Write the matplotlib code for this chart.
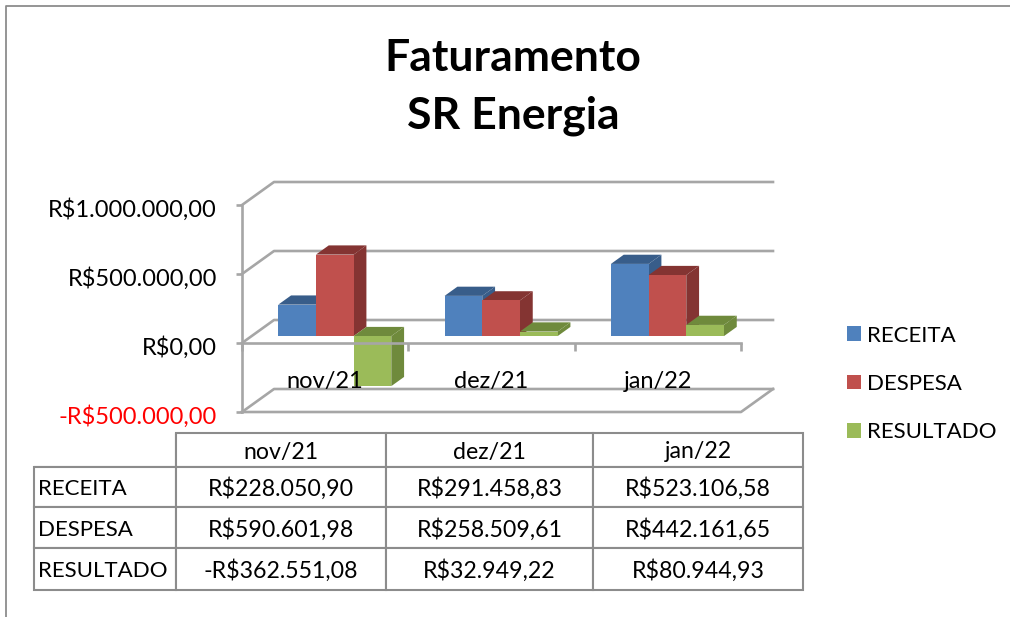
import matplotlib
matplotlib.use("Agg")
import matplotlib.pyplot as plt
from matplotlib.lines import Line2D
from matplotlib.patches import Patch, Polygon
from matplotlib.transforms import ScaledTranslation

plt.rcParams['font.family'] = ['Lato', 'DejaVu Sans']

meses = ['nov/21', 'dez/21', 'jan/22']
series = ['RECEITA', 'DESPESA', 'RESULTADO']
receita = [228050.90, 291458.83, 523106.58]
despesa = [590601.98, 258509.61, 442161.65]
resultado = [-362551.08, 32949.22, 80944.93]
y_ticks = [-500000, 0, 500000, 1000000]
y_labels = ['-R$500.000,00', 'R$0,00', 'R$500.000,00', 'R$1.000.000,00']
tabela = [
    ['RECEITA', 'R$228.050,90', 'R$291.458,83', 'R$523.106,58'],
    ['DESPESA', 'R$590.601,98', 'R$258.509,61', 'R$442.161,65'],
    ['RESULTADO', '-R$362.551,08', 'R$32.949,22', 'R$80.944,93'],
]

W, H = 1010, 617
GRIS = '#a6a6a6'
cores = ['#4f81bd', '#c0504d', '#9bbb59']
cores_lado = ['#385d8a', '#843432', '#6f8a3c']

fig = plt.figure(figsize=(W / 100, H / 100), dpi=100, facecolor='white')

# moldura
fig.add_artist(Line2D([6 / W, 6 / W, 1], [0, 1 - 6 / H, 1 - 6 / H], color='#8c8c8c', lw=1.3))

fig.text(513 / W, 1 - 71 / H, 'Faturamento', fontsize=32, fontweight='bold', ha='center', va='baseline')
fig.text(513 / W, 1 - 129 / H, 'SR Energia', fontsize=32, fontweight='bold', ha='center', va='baseline')

ax = fig.add_axes([242 / W, 1 - 412 / H, 499 / W, 207 / H])
ax.set_xlim(0, 3)
ax.set_ylim(-500000, 1000000)
ax.patch.set_visible(False)

# profundidade do grafico 3D em unidades dos eixos
prof_x = 32 / 166.3
prof_y = 23 / 69 * 500000

# paredes
for v in y_ticks:
    ax.plot([0, prof_x, 3 + prof_x], [v, v + prof_y, v + prof_y], color=GRIS, lw=1.9, zorder=0.5, clip_on=False)
ax.plot([0, 3, 3 + prof_x], [-500000, -500000, -500000 + prof_y], color=GRIS, lw=1.9, zorder=0.5, clip_on=False)

# barras
larg = 0.2265
dx0, dy0 = prof_x * 0.3, prof_y * 0.3
dx1, dy1 = prof_x * 0.7, prof_y * 0.7
for i in range(len(meses)):
    for s, valores in enumerate([receita, despesa, resultado]):
        v = valores[i]
        x0 = i + 0.5 + (s - 1.5) * larg + dx0
        x1 = x0 + larg
        topo = max(v, 0)
        frente = [(x0, dy0), (x1, dy0), (x1, v + dy0), (x0, v + dy0)]
        cima = [(x0, topo + dy0), (x1, topo + dy0), (x1 + dx1 - dx0, topo + dy1), (x0 + dx1 - dx0, topo + dy1)]
        lado = [(x1, dy0), (x1, v + dy0), (x1 + dx1 - dx0, v + dy1), (x1 + dx1 - dx0, dy1)]
        ax.add_patch(Polygon(lado, color=cores_lado[s], lw=0, zorder=1 + i + s / 10, clip_on=False))
        ax.add_patch(Polygon(cima, color=cores_lado[s], lw=0, zorder=1 + i + s / 10, clip_on=False))
        ax.add_patch(Polygon(frente, color=cores[s], lw=0, zorder=1 + i + s / 10, clip_on=False))

for lado in ['top', 'right']:
    ax.spines[lado].set_visible(False)
ax.spines['left'].set_color(GRIS)
ax.spines['left'].set_linewidth(1.9)
ax.spines['bottom'].set_position(('data', 0))
ax.spines['bottom'].set_color(GRIS)
ax.spines['bottom'].set_linewidth(1.9)
ax.spines['left'].set_zorder(10)
ax.spines['bottom'].set_zorder(10)

ax.set_yticks(y_ticks)
ax.set_yticklabels(y_labels, fontsize=17)
ax.tick_params(axis='y', length=4, width=1.9, color=GRIS, pad=14)
ax.get_yticklabels()[0].set_color('red')
desce = ScaledTranslation(0, -2 / 72, fig.dpi_scale_trans)
for t in ax.get_yticklabels():
    t.set_transform(t.get_transform() + desce)

ax.set_xticks([0, 1, 2, 3])
ax.set_xticklabels([])
ax.set_xticks([0.5, 1.5, 2.5], minor=True)
ax.set_xticklabels(meses, minor=True, fontsize=17)
ax.tick_params(axis='x', which='major', length=6, width=1.9, color=GRIS)
ax.tick_params(axis='x', which='minor', length=0, pad=20.5)
ax.xaxis.set_zorder(10)
ax.yaxis.set_zorder(10)

handles = [Patch(color=c, lw=0, label=n) for c, n in zip(cores, series)]
fig.legend(handles=handles, loc='center left', bbox_to_anchor=(838 / W, 1 - 384 / H), frameon=False, fontsize=16,
           handlelength=0.63, handleheight=0.63, handletextpad=0.27, labelspacing=1.28, borderpad=0.4, borderaxespad=0)

# tabela de dados
colunas = [34, 176, 386, 593, 803]
linhas = [433, 467, 507, 548, 590]
ax_t = fig.add_axes([34 / W, 1 - 590 / H, 769 / W, 157 / H])
ax_t.axis('off')
cell_text = [[''] + meses] + tabela
tb = ax_t.table(cellText=cell_text, bbox=[0, 0, 1, 1], cellLoc='center')
tb.auto_set_font_size(False)
tb.set_fontsize(16.7)
for (r, c), cell in tb.get_celld().items():
    cell.set_width((colunas[c + 1] - colunas[c]) / 769)
    cell.set_height((linhas[r + 1] - linhas[r]) / 157)
    cell.set_edgecolor('#8c8c8c')
    cell.set_linewidth(1.5)
    cell.set_text_props(va='center_baseline')
    if c == 0:
        cell.set_text_props(ha='left', fontsize=16)
        cell.PAD = 0.03
tb[(0, 0)].visible_edges = 'BR'

fig.savefig('out.png', dpi=100)
